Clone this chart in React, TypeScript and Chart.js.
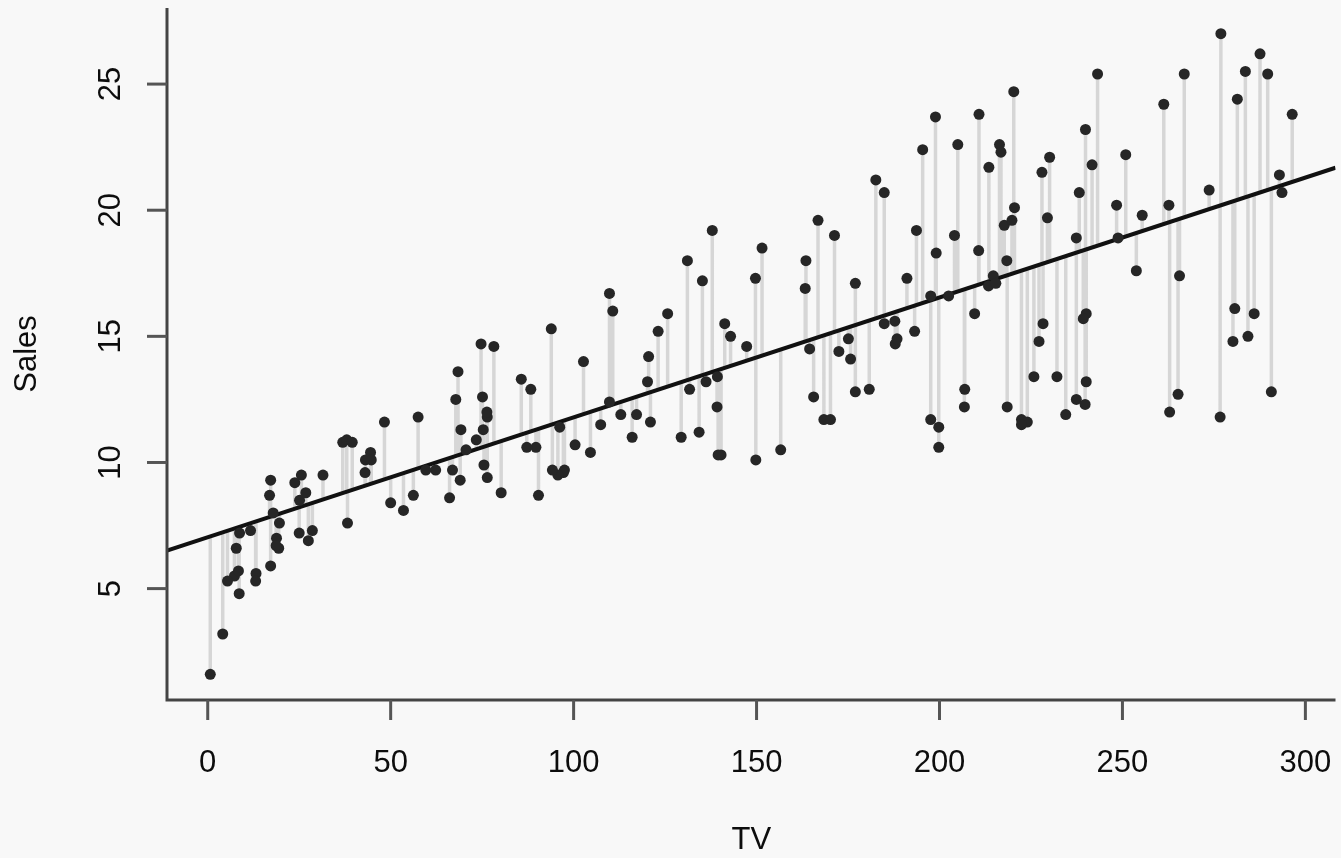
import React, { useEffect, useRef } from "react";
import { Chart, registerables } from "chart.js";

Chart.register(...registerables);

// Advertising data: TV budget vs Sales
const TV = [
  230.1, 44.5, 17.2, 151.5, 180.8, 8.7, 57.5, 120.2, 8.6, 199.8,
  66.1, 214.7, 23.8, 97.5, 204.1, 195.4, 67.8, 281.4, 69.2, 147.3,
  218.4, 237.4, 13.2, 228.3, 62.3, 262.9, 142.9, 240.1, 248.8, 70.6,
  292.9, 112.9, 97.2, 265.6, 95.7, 290.7, 266.9, 74.7, 43.1, 228.0,
  202.5, 177.0, 293.6, 206.9, 25.1, 175.1, 89.7, 239.9, 227.2, 66.9,
  199.8, 100.4, 216.4, 182.6, 262.7, 198.9, 7.3, 136.2, 210.8, 210.7,
  53.5, 261.3, 239.3, 102.7, 131.1, 69.0, 31.5, 139.3, 237.4, 216.8,
  199.1, 109.8, 26.8, 129.4, 213.4, 16.9, 27.5, 120.5, 5.4, 116.0,
  76.4, 239.8, 75.3, 68.4, 213.5, 193.2, 76.3, 110.7, 88.3, 109.8,
  134.3, 28.6, 217.7, 250.9, 107.4, 163.3, 197.6, 184.9, 289.7, 135.2,
  222.4, 296.4, 280.2, 187.9, 238.2, 137.9, 25.0, 90.4, 13.1, 255.4,
  225.8, 241.7, 175.7, 209.6, 78.2, 75.1, 139.2, 76.4, 125.7, 19.4,
  141.3, 18.8, 224.0, 123.1, 229.5, 87.2, 7.8, 80.2, 220.3, 59.6,
  0.7, 265.2, 8.4, 219.8, 36.9, 48.3, 25.6, 273.7, 43.0, 184.9,
  73.4, 193.7, 220.5, 104.6, 96.2, 140.3, 240.1, 243.2, 38.0, 44.7,
  280.7, 121.0, 197.6, 171.3, 187.8, 4.1, 93.9, 149.8, 11.7, 131.7,
  172.5, 85.7, 188.4, 163.5, 117.2, 234.5, 17.9, 206.8, 215.4, 284.3,
  50.0, 164.5, 19.6, 168.4, 222.4, 276.9, 248.4, 170.2, 276.7, 165.6,
  156.6, 218.5, 56.2, 287.6, 253.8, 205.0, 139.5, 191.1, 286.0, 18.7,
  39.5, 75.5, 17.2, 166.8, 149.7, 38.2, 94.2, 177.0, 283.6, 232.1,
];

const SALES = [
  22.1, 10.4, 9.3, 18.5, 12.9, 7.2, 11.8, 13.2, 4.8, 10.6,
  8.6, 17.4, 9.2, 9.7, 19.0, 22.4, 12.5, 24.4, 11.3, 14.6,
  18.0, 12.5, 5.6, 15.5, 9.7, 12.0, 15.0, 15.9, 18.9, 10.5,
  21.4, 11.9, 9.6, 17.4, 9.5, 12.8, 25.4, 14.7, 10.1, 21.5,
  16.6, 17.1, 20.7, 12.9, 8.5, 14.9, 10.6, 23.2, 14.8, 9.7,
  11.4, 10.7, 22.6, 21.2, 20.2, 23.7, 5.5, 13.2, 23.8, 18.4,
  8.1, 24.2, 15.7, 14.0, 18.0, 9.3, 9.5, 13.4, 18.9, 22.3,
  18.3, 12.4, 8.8, 11.0, 17.0, 8.7, 6.9, 14.2, 5.3, 11.0,
  11.8, 12.3, 11.3, 13.6, 21.7, 15.2, 12.0, 16.0, 12.9, 16.7,
  11.2, 7.3, 19.4, 22.2, 11.5, 16.9, 11.7, 15.5, 25.4, 17.2,
  11.7, 23.8, 14.8, 14.7, 20.7, 19.2, 7.2, 8.7, 5.3, 19.8,
  13.4, 21.8, 14.1, 15.9, 14.6, 12.6, 12.2, 9.4, 15.9, 6.6,
  15.5, 7.0, 11.6, 15.2, 19.7, 10.6, 6.6, 8.8, 24.7, 9.7,
  1.6, 12.7, 5.7, 19.6, 10.8, 11.6, 9.5, 20.8, 9.6, 20.7,
  10.9, 19.2, 20.1, 10.4, 11.4, 10.3, 13.2, 25.4, 10.9, 10.1,
  16.1, 11.6, 16.6, 19.0, 15.6, 3.2, 15.3, 10.1, 7.3, 12.9,
  14.4, 13.3, 14.9, 18.0, 11.9, 11.9, 8.0, 12.2, 17.1, 15.0,
  8.4, 14.5, 7.6, 11.7, 11.5, 27.0, 20.2, 11.7, 11.8, 12.6,
  10.5, 12.2, 8.7, 26.2, 17.6, 22.6, 10.3, 17.3, 15.9, 6.7,
  10.8, 9.9, 5.9, 19.6, 17.3, 7.6, 9.7, 12.8, 25.5, 13.4,
];

// Least squares fit shown in the figure
const INTERCEPT = 7.0326;
const SLOPE = 0.047537;

const X_TICKS = [0, 50, 100, 150, 200, 250, 300];
const Y_TICKS = [5, 10, 15, 20, 25];
const X_RANGE = [-11.13, 308.23];
const Y_RANGE = [0.584, 28.016];
const X_TITLE = "TV";
const Y_TITLE = "Sales";

const BG = "#f8f8f8";
const FONT = '31px "Liberation Sans", Arial, sans-serif';

const rAxesPlugin = {
  id: "rAxes",
  beforeDraw(chart: any) {
    const { ctx, width, height } = chart;
    ctx.save();
    ctx.fillStyle = BG;
    ctx.fillRect(0, 0, width, height);
    ctx.restore();
  },
  afterDraw(chart: any) {
    const { ctx, chartArea: a } = chart;
    const xs = chart.scales.x;
    const ys = chart.scales.y;
    ctx.save();
    ctx.strokeStyle = "#444444";
    ctx.lineWidth = 3;
    ctx.beginPath();
    ctx.moveTo(a.left, a.top);
    ctx.lineTo(a.left, a.bottom);
    ctx.lineTo(a.right, a.bottom);
    ctx.stroke();

    ctx.fillStyle = "#0d0d0d";
    ctx.font = FONT;
    ctx.strokeStyle = "#555555";
    ctx.lineWidth = 3;

    // x ticks
    ctx.textAlign = "center";
    ctx.textBaseline = "middle";
    X_TICKS.forEach((v) => {
      const px = xs.getPixelForValue(v);
      ctx.beginPath();
      ctx.moveTo(px, a.bottom);
      ctx.lineTo(px, a.bottom + 20);
      ctx.stroke();
      ctx.fillText(String(v), px, a.bottom + 63);
    });

    // y ticks (labels parallel to axis)
    Y_TICKS.forEach((v) => {
      const py = ys.getPixelForValue(v);
      ctx.beginPath();
      ctx.moveTo(a.left, py);
      ctx.lineTo(a.left - 20, py);
      ctx.stroke();
      ctx.save();
      ctx.translate(a.left - 56, py);
      ctx.rotate(-Math.PI / 2);
      ctx.fillText(String(v), 0, 0);
      ctx.restore();
    });

    // axis titles
    ctx.fillText(X_TITLE, (a.left + a.right) / 2, a.bottom + 140);
    ctx.save();
    ctx.translate(27, (a.top + a.bottom) / 2);
    ctx.rotate(-Math.PI / 2);
    ctx.fillText(Y_TITLE, 0, 0);
    ctx.restore();

    ctx.restore();
  },
};

export default function App() {
  const canvasRef = useRef<HTMLCanvasElement | null>(null);

  useEffect(() => {
    const canvas = canvasRef.current;
    if (!canvas) return;

    const points = TV.map((x, i) => ({ x, y: SALES[i] }));
    const residuals: any[] = [];
    TV.forEach((x, i) => {
      residuals.push({ x, y: SALES[i] });
      residuals.push({ x, y: INTERCEPT + SLOPE * x });
      residuals.push({ x, y: null });
    });
    const fit = [
      { x: X_RANGE[0], y: INTERCEPT + SLOPE * X_RANGE[0] },
      { x: X_RANGE[1], y: INTERCEPT + SLOPE * X_RANGE[1] },
    ];

    const chart = new Chart(canvas, {
      type: "scatter",
      data: {
        datasets: [
          {
            type: "scatter",
            label: "Sales",
            data: points,
            pointRadius: 5.5,
            pointBackgroundColor: "#262626",
            pointBorderWidth: 0,
            borderWidth: 0,
            order: 0,
          } as any,
          {
            type: "line",
            label: "Fit",
            data: fit,
            borderColor: "#111111",
            borderWidth: 4,
            pointRadius: 0,
            fill: false,
            order: 1,
          } as any,
          {
            type: "line",
            label: "Residuals",
            data: residuals,
            borderColor: "#d6d6d6",
            borderWidth: 3.5,
            pointRadius: 0,
            spanGaps: false,
            fill: false,
            order: 2,
          } as any,
        ],
      },
      options: {
        responsive: false,
        animation: false,
        events: [],
        layout: { padding: { left: 167, top: 8, right: 0, bottom: 158 } },
        plugins: { legend: { display: false }, tooltip: { enabled: false } },
        scales: {
          x: { type: "linear", display: false, min: X_RANGE[0], max: X_RANGE[1] },
          y: { type: "linear", display: false, min: Y_RANGE[0], max: Y_RANGE[1] },
        },
      },
      plugins: [rAxesPlugin],
    });

    return () => chart.destroy();
  }, []);

  return (
    <div style={{ position: "absolute", left: 0, top: 0, width: 1341, height: 858, background: BG }}>
      <canvas ref={canvasRef} width={1341} height={858} style={{ display: "block" }} />
    </div>
  );
}
